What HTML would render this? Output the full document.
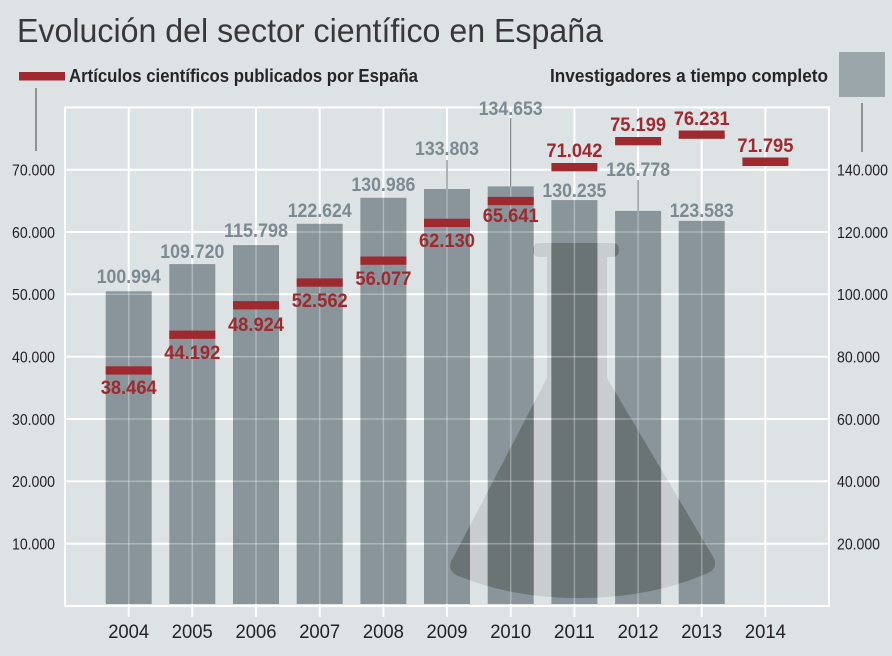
<!DOCTYPE html>
<html>
<head>
<meta charset="utf-8">
<style>
html,body{margin:0;padding:0;background:#dde2e4;}
svg{display:block;}
text{font-family:"Liberation Sans",sans-serif;}
</style>
</head>
<body>
<svg width="892" height="656" viewBox="0 0 892 656" xmlns="http://www.w3.org/2000/svg">
<defs>
<clipPath id="barclip">
<rect x="105.7" y="291.3" width="46" height="312.7"/>
<rect x="169.3" y="264.1" width="46" height="339.9"/>
<rect x="233" y="245.1" width="46" height="358.9"/>
<rect x="296.7" y="223.8" width="46" height="380.2"/>
<rect x="360.4" y="197.8" width="46" height="406.2"/>
<rect x="424" y="189" width="46" height="415"/>
<rect x="487.7" y="186.4" width="46" height="417.6"/>
<rect x="551.4" y="200.1" width="46" height="403.9"/>
<rect x="615.1" y="210.9" width="46" height="393.1"/>
<rect x="678.7" y="220.9" width="46" height="383.1"/>
</clipPath>
</defs>
<rect x="0" y="0" width="892" height="656" fill="#dde2e4"/>

<!-- Title -->
<text x="17" y="42" font-size="33" fill="#383838" textLength="586" lengthAdjust="spacingAndGlyphs">Evolución del sector científico en España</text>

<!-- Legend -->
<rect x="19" y="72" width="46" height="8.5" fill="#9e2a2f"/>
<text x="69" y="82" font-size="18" font-weight="bold" fill="#262626" textLength="349" lengthAdjust="spacingAndGlyphs">Artículos científicos publicados por España</text>
<line x1="36" y1="88" x2="36" y2="151" stroke="#777" stroke-width="1.5"/>
<text x="550" y="82" font-size="18" font-weight="bold" fill="#262626" textLength="278" lengthAdjust="spacingAndGlyphs">Investigadores a tiempo completo</text>
<rect x="839" y="52" width="46" height="45" fill="#9ba6aa"/>
<line x1="862" y1="103" x2="862" y2="152" stroke="#777" stroke-width="1.5"/>

<!-- Grid (base, full white) -->
<g stroke="#ffffff" stroke-width="2">
<line x1="65" y1="107.4" x2="829" y2="107.4"/>
<line x1="65" y1="169.7" x2="829" y2="169.7"/>
<line x1="65" y1="232" x2="829" y2="232"/>
<line x1="65" y1="294.3" x2="829" y2="294.3"/>
<line x1="65" y1="356.7" x2="829" y2="356.7"/>
<line x1="65" y1="419" x2="829" y2="419"/>
<line x1="65" y1="481.3" x2="829" y2="481.3"/>
<line x1="65" y1="543.7" x2="829" y2="543.7"/>
<line x1="64" y1="606" x2="830" y2="606"/>
<line x1="65" y1="106.4" x2="65" y2="607"/>
<line x1="829" y1="106.4" x2="829" y2="607"/>
<line x1="128.7" y1="107" x2="128.7" y2="617"/>
<line x1="192.3" y1="107" x2="192.3" y2="617"/>
<line x1="256" y1="107" x2="256" y2="617"/>
<line x1="319.7" y1="107" x2="319.7" y2="617"/>
<line x1="383.4" y1="107" x2="383.4" y2="617"/>
<line x1="447" y1="107" x2="447" y2="617"/>
<line x1="510.7" y1="107" x2="510.7" y2="617"/>
<line x1="574.4" y1="107" x2="574.4" y2="617"/>
<line x1="638.1" y1="107" x2="638.1" y2="617"/>
<line x1="701.7" y1="107" x2="701.7" y2="617"/>
<line x1="765.4" y1="107" x2="765.4" y2="617"/>
</g>

<!-- Flask light (background part) -->
<path d="M533,250 Q533,243 540,243 L612,243 Q619,243 619,250 Q619,257 612,257 L607,257 L607,378 L712,555 Q720,567 708,573 Q650,598 580,598 Q510,598 456,575 Q446,569 453,558 L547,378 L547,257 L540,257 Q533,257 533,250 Z" fill="#000" fill-opacity="0.09"/>

<!-- Bars -->
<g fill="#89959b">
<rect x="105.7" y="291.3" width="46" height="312.7"/>
<rect x="169.3" y="264.1" width="46" height="339.9"/>
<rect x="233" y="245.1" width="46" height="358.9"/>
<rect x="296.7" y="223.8" width="46" height="380.2"/>
<rect x="360.4" y="197.8" width="46" height="406.2"/>
<rect x="424" y="189" width="46" height="415"/>
<rect x="487.7" y="186.4" width="46" height="417.6"/>
<rect x="551.4" y="200.1" width="46" height="403.9"/>
<rect x="615.1" y="210.9" width="46" height="393.1"/>
<rect x="678.7" y="220.9" width="46" height="383.1"/>
</g>

<!-- Flask dark (over bars) -->
<path d="M533,250 Q533,243 540,243 L612,243 Q619,243 619,250 Q619,257 612,257 L607,257 L607,378 L712,555 Q720,567 708,573 Q650,598 580,598 Q510,598 456,575 Q446,569 453,558 L547,378 L547,257 L540,257 Q533,257 533,250 Z" fill="#6b7475" clip-path="url(#barclip)"/>

<!-- Grid overlay (faint through bars) -->
<g stroke="#ffffff" stroke-opacity="0.3" stroke-width="1.5">
<line x1="65" y1="169.7" x2="829" y2="169.7"/>
<line x1="65" y1="232" x2="829" y2="232"/>
<line x1="65" y1="294.3" x2="829" y2="294.3"/>
<line x1="65" y1="356.7" x2="829" y2="356.7"/>
<line x1="65" y1="419" x2="829" y2="419"/>
<line x1="65" y1="481.3" x2="829" y2="481.3"/>
<line x1="65" y1="543.7" x2="829" y2="543.7"/>
<line x1="128.7" y1="107" x2="128.7" y2="606"/>
<line x1="192.3" y1="107" x2="192.3" y2="606"/>
<line x1="256" y1="107" x2="256" y2="606"/>
<line x1="319.7" y1="107" x2="319.7" y2="606"/>
<line x1="383.4" y1="107" x2="383.4" y2="606"/>
<line x1="447" y1="107" x2="447" y2="606"/>
<line x1="510.7" y1="107" x2="510.7" y2="606"/>
<line x1="574.4" y1="107" x2="574.4" y2="606"/>
<line x1="638.1" y1="107" x2="638.1" y2="606"/>
<line x1="701.7" y1="107" x2="701.7" y2="606"/>
</g>

<!-- Leader lines -->
<g stroke="#7a7f82" stroke-width="1.2">
<line x1="447" y1="160" x2="447" y2="189"/>
<line x1="510.7" y1="118" x2="510.7" y2="186.4"/>
<line x1="638.1" y1="180" x2="638.1" y2="210.9"/>
</g>

<!-- Red markers -->
<g fill="#9e2a2f">
<rect x="105.7" y="366.3" width="46" height="8.3"/>
<rect x="169.3" y="330.6" width="46" height="8.3"/>
<rect x="233" y="301.1" width="46" height="8.3"/>
<rect x="296.7" y="278.4" width="46" height="8.3"/>
<rect x="360.4" y="256.5" width="46" height="8.3"/>
<rect x="424" y="218.7" width="46" height="8.3"/>
<rect x="487.7" y="196.9" width="46" height="8.3"/>
<rect x="551.4" y="163" width="46" height="8.3"/>
<rect x="615.1" y="137" width="46" height="8.3"/>
<rect x="678.7" y="130.5" width="46" height="8.3"/>
<rect x="742.4" y="157.5" width="46" height="8.5"/>
</g>

<!-- Gray value labels -->
<g font-size="19" font-weight="bold" fill="#7d8a92" text-anchor="middle">
<text x="128.7" y="283" textLength="64" lengthAdjust="spacingAndGlyphs">100.994</text>
<text x="192.3" y="258" textLength="64" lengthAdjust="spacingAndGlyphs">109.720</text>
<text x="256" y="237" textLength="64" lengthAdjust="spacingAndGlyphs">115.798</text>
<text x="319.7" y="217" textLength="64" lengthAdjust="spacingAndGlyphs">122.624</text>
<text x="383.4" y="191" textLength="64" lengthAdjust="spacingAndGlyphs">130.986</text>
<text x="447" y="155" textLength="64" lengthAdjust="spacingAndGlyphs">133.803</text>
<text x="510.7" y="115" textLength="64" lengthAdjust="spacingAndGlyphs">134.653</text>
<text x="574.4" y="197" textLength="64" lengthAdjust="spacingAndGlyphs">130.235</text>
<text x="638.1" y="176" textLength="64" lengthAdjust="spacingAndGlyphs">126.778</text>
<text x="701.7" y="217" textLength="64" lengthAdjust="spacingAndGlyphs">123.583</text>
</g>

<!-- Red value labels -->
<g font-size="19" font-weight="bold" fill="#9e2a2f" text-anchor="middle">
<text x="128.7" y="394" textLength="56" lengthAdjust="spacingAndGlyphs">38.464</text>
<text x="192.3" y="359" textLength="56" lengthAdjust="spacingAndGlyphs">44.192</text>
<text x="256" y="331" textLength="56" lengthAdjust="spacingAndGlyphs">48.924</text>
<text x="319.7" y="307" textLength="56" lengthAdjust="spacingAndGlyphs">52.562</text>
<text x="383.4" y="285" textLength="56" lengthAdjust="spacingAndGlyphs">56.077</text>
<text x="447" y="247" textLength="56" lengthAdjust="spacingAndGlyphs">62.130</text>
<text x="510.7" y="222" textLength="56" lengthAdjust="spacingAndGlyphs">65.641</text>
<text x="574.4" y="157" textLength="56" lengthAdjust="spacingAndGlyphs">71.042</text>
<text x="638.1" y="131" textLength="56" lengthAdjust="spacingAndGlyphs">75.199</text>
<text x="701.7" y="125" textLength="56" lengthAdjust="spacingAndGlyphs">76.231</text>
<text x="765.4" y="152" textLength="56" lengthAdjust="spacingAndGlyphs">71.795</text>
</g>

<!-- Left axis labels -->
<g font-size="16" fill="#222" text-anchor="end">
<text x="55" y="175.5" textLength="43" lengthAdjust="spacingAndGlyphs">70.000</text>
<text x="55" y="237.8" textLength="43" lengthAdjust="spacingAndGlyphs">60.000</text>
<text x="55" y="300.1" textLength="43" lengthAdjust="spacingAndGlyphs">50.000</text>
<text x="55" y="362.5" textLength="43" lengthAdjust="spacingAndGlyphs">40.000</text>
<text x="55" y="424.8" textLength="43" lengthAdjust="spacingAndGlyphs">30.000</text>
<text x="55" y="487.1" textLength="43" lengthAdjust="spacingAndGlyphs">20.000</text>
<text x="55" y="549.5" textLength="43" lengthAdjust="spacingAndGlyphs">10.000</text>
</g>

<!-- Right axis labels -->
<g font-size="16" fill="#222">
<text x="837" y="175.5" textLength="51" lengthAdjust="spacingAndGlyphs">140.000</text>
<text x="837" y="237.8" textLength="51" lengthAdjust="spacingAndGlyphs">120.000</text>
<text x="837" y="300.1" textLength="51" lengthAdjust="spacingAndGlyphs">100.000</text>
<text x="837" y="362.5" textLength="43" lengthAdjust="spacingAndGlyphs">80.000</text>
<text x="837" y="424.8" textLength="43" lengthAdjust="spacingAndGlyphs">60.000</text>
<text x="837" y="487.1" textLength="43" lengthAdjust="spacingAndGlyphs">40.000</text>
<text x="837" y="549.5" textLength="43" lengthAdjust="spacingAndGlyphs">20.000</text>
</g>

<!-- Year labels -->
<g font-size="19" fill="#222" text-anchor="middle">
<text x="128.7" y="638" textLength="41" lengthAdjust="spacingAndGlyphs">2004</text>
<text x="192.3" y="638" textLength="41" lengthAdjust="spacingAndGlyphs">2005</text>
<text x="256" y="638" textLength="41" lengthAdjust="spacingAndGlyphs">2006</text>
<text x="319.7" y="638" textLength="41" lengthAdjust="spacingAndGlyphs">2007</text>
<text x="383.4" y="638" textLength="41" lengthAdjust="spacingAndGlyphs">2008</text>
<text x="447" y="638" textLength="41" lengthAdjust="spacingAndGlyphs">2009</text>
<text x="510.7" y="638" textLength="41" lengthAdjust="spacingAndGlyphs">2010</text>
<text x="574.4" y="638" textLength="41" lengthAdjust="spacingAndGlyphs">2011</text>
<text x="638.1" y="638" textLength="41" lengthAdjust="spacingAndGlyphs">2012</text>
<text x="701.7" y="638" textLength="41" lengthAdjust="spacingAndGlyphs">2013</text>
<text x="765.4" y="638" textLength="41" lengthAdjust="spacingAndGlyphs">2014</text>
</g>
</svg>
</body>
</html>
